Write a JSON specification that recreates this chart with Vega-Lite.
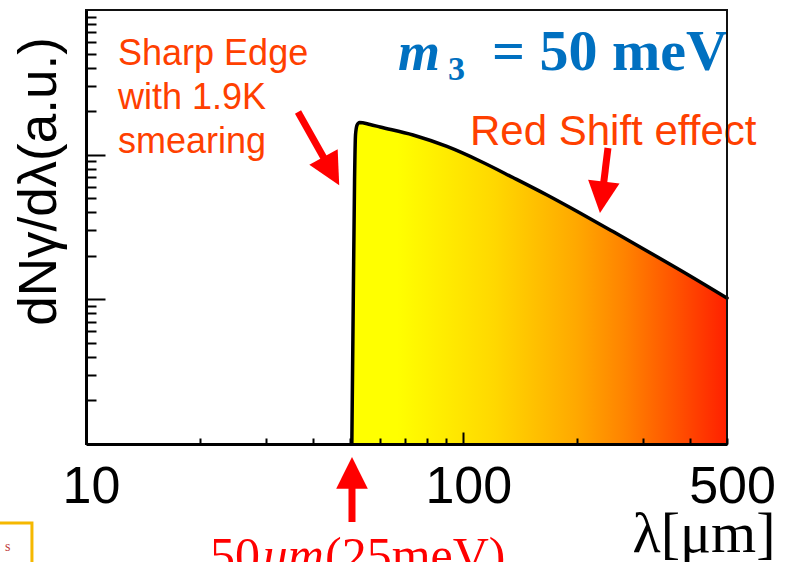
{
  "$schema": "https://vega.github.io/schema/vega-lite/v6.json",
  "width": 641,
  "height": 434,
  "autosize": {"type": "none"},
  "padding": {"left": 86, "top": 10, "right": 61, "bottom": 118},
  "background": "white",
  "config": {"view": {"stroke": null}},
  "datasets": {
    "curve": [
      {"lam": 50.65, "val": 1},
      {"lam": 51.1, "val": 9.9},
      {"lam": 51.5, "val": 66.8},
      {"lam": 51.8, "val": 136.8},
      {"lam": 52.3, "val": 160.3},
      {"lam": 53.1, "val": 166.9},
      {"lam": 56.6, "val": 161.6},
      {"lam": 60.2, "val": 155.3},
      {"lam": 73.6, "val": 136.8},
      {"lam": 90.5, "val": 113.9},
      {"lam": 110.7, "val": 90.4},
      {"lam": 135.4, "val": 69.5},
      {"lam": 166.7, "val": 52.6},
      {"lam": 203.9, "val": 39.5},
      {"lam": 249.4, "val": 29.4},
      {"lam": 306.9, "val": 21.6},
      {"lam": 375.3, "val": 15.95},
      {"lam": 500, "val": 10.2}
    ],
    "arrows": [
      {"id": "edge", "lam": 36.47, "val": 197.2, "lam2": 44.7, "val2": 76.9},
      {"id": "shift", "lam": 241.8, "val": 111.2, "lam2": 233.0, "val2": 50.7},
      {"id": "cut", "lam": 50.7, "val": 0.289, "lam2": 50.7, "val2": 0.632}
    ],
    "notes": [
      {"id": "sharp", "lam": 12.16, "val": 416.7, "text": "Sharp Edge\nwith 1.9K\nsmearing"},
      {"id": "m", "lam": 67.1, "val": 384.7, "text": "m"},
      {"id": "sub", "lam": 91.1, "val": 328, "text": "3"},
      {"id": "eq", "lam": 503, "val": 384.7, "text": "= 50 meV"},
      {"id": "red", "lam": 104.2, "val": 116.6, "text": "Red Shift effect"},
      {"id": "n50", "lam": 21.3, "val": 0.13, "text": "50"},
      {"id": "um", "lam": 29.4, "val": 0.13, "text": "um"},
      {"id": "n25", "lam": 43.0, "val": 0.13, "text": "(25meV)"},
      {"id": "s", "lam": 6.1, "val": 0.182, "text": "s"}
    ]
  },
  "layer": [
    {
      "data": {"name": "curve"},
      "mark": {
        "type": "area",
        "interpolate": "monotone",
        "color": {
          "gradient": "linear",
          "x1": 0, "y1": 0, "x2": 1, "y2": 0,
          "stops": [
            {"offset": 0, "color": "#FFFF00"},
            {"offset": 0.12, "color": "#FFFF00"},
            {"offset": 0.38, "color": "#FFD800"},
            {"offset": 0.6, "color": "#FFA800"},
            {"offset": 0.73, "color": "#FF8200"},
            {"offset": 0.87, "color": "#FF5000"},
            {"offset": 1, "color": "#FF2000"}
          ]
        }
      },
      "encoding": {
        "x": {
          "field": "lam", "type": "quantitative",
          "scale": {"type": "log", "domain": [10, 500], "nice": false},
          "axis": {
            "values": [10, 20, 30, 40, 50, 60, 70, 80, 90, 100, 200, 300, 400, 500],
            "labelExpr": "datum.value == 10 || datum.value == 100 || datum.value == 500 ? toString(datum.value) : ''",
            "labelFlush": false,
            "labelOverlap": false,
            "labelFont": "Liberation Sans",
            "labelFontSize": 52,
            "labelColor": "black",
            "labelBaseline": "top",
            "labelPadding": {"condition": {"test": "datum.value == 100", "value": 29}, "value": 23},
            "labelOffset": 5,
            "tickSize": {"condition": {"test": "datum.value == 100", "value": -12}, "value": -6},
            "tickWidth": 2,
            "tickColor": "black",
            "domainColor": "black",
            "domainWidth": 3,
            "grid": false,
            "title": "λ[μm]",
            "titleFont": "Liberation Serif",
            "titleFontSize": 58,
            "titleFontWeight": "normal",
            "titleColor": "black",
            "titleAlign": "right",
            "titleBaseline": "alphabetic",
            "titleAngle": 0,
            "titleX": 689,
            "titleY": 107,
            "zindex": 1
          }
        },
        "y": {
          "field": "val", "type": "quantitative",
          "scale": {"type": "log", "domain": [1, 1000], "nice": false},
          "axis": {
            "values": [2, 3, 4, 5, 6, 7, 8, 9, 10, 20, 30, 40, 50, 60, 70, 80, 90, 100, 200, 300, 400, 500, 600, 700, 800, 900],
            "labels": false,
            "tickSize": {"condition": {"test": "datum.value == 10 || datum.value == 100", "value": -19}, "value": -10},
            "tickWidth": 2,
            "tickColor": "black",
            "domainColor": "black",
            "domainWidth": 3,
            "grid": false,
            "title": "dNγ/dλ(a.u.)",
            "titleFont": "Liberation Sans",
            "titleFontSize": 53,
            "titleFontWeight": "normal",
            "titleColor": "black",
            "titleAngle": 270,
            "titleAlign": "center",
            "titleBaseline": "alphabetic",
            "titleX": -31,
            "titleY": 171,
            "zindex": 1
          }
        },
        "y2": {"datum": 1}
      }
    },
    {
      "data": {"name": "curve"},
      "mark": {"type": "line", "interpolate": "monotone", "color": "black", "strokeWidth": 3.5, "strokeJoin": "round", "strokeCap": "round"},
      "encoding": {
        "x": {"field": "lam", "type": "quantitative", "scale": {"type": "log", "domain": [10, 500], "nice": false}},
        "y": {"field": "val", "type": "quantitative", "scale": {"type": "log", "domain": [1, 1000], "nice": false}}
      }
    },
    {
      "data": {"name": "arrows"},
      "mark": {"type": "rule", "color": "#FF0000", "strokeWidth": 7, "strokeCap": "butt"},
      "encoding": {
        "x": {"field": "lam", "type": "quantitative", "scale": {"type": "log", "domain": [10, 500], "nice": false}},
        "y": {"field": "val", "type": "quantitative", "scale": {"type": "log", "domain": [1, 1000], "nice": false}},
        "x2": {"field": "lam2"},
        "y2": {"field": "val2"}
      }
    },
    {
      "data": {"name": "arrows"},
      "transform": [{"filter": "datum.id == 'edge'"}],
      "mark": {"type": "point", "shape": "M0,-1L1,1L-1,1Z", "size": 1050, "filled": true, "color": "#FF0000", "opacity": 1, "strokeWidth": 0, "angle": 151},
      "encoding": {
        "x": {"field": "lam2", "type": "quantitative", "scale": {"type": "log", "domain": [10, 500], "nice": false}},
        "y": {"field": "val2", "type": "quantitative", "scale": {"type": "log", "domain": [1, 1000], "nice": false}}
      }
    },
    {
      "data": {"name": "arrows"},
      "transform": [{"filter": "datum.id == 'shift'"}],
      "mark": {"type": "point", "shape": "M0,-1L1,1L-1,1Z", "size": 1000, "filled": true, "color": "#FF0000", "opacity": 1, "strokeWidth": 0, "angle": 187},
      "encoding": {
        "x": {"field": "lam2", "type": "quantitative", "scale": {"type": "log", "domain": [10, 500], "nice": false}},
        "y": {"field": "val2", "type": "quantitative", "scale": {"type": "log", "domain": [1, 1000], "nice": false}}
      }
    },
    {
      "data": {"name": "arrows"},
      "transform": [{"filter": "datum.id == 'cut'"}],
      "mark": {"type": "point", "shape": "M0,-1L1,1L-1,1Z", "size": 1000, "filled": true, "color": "#FF0000", "opacity": 1, "strokeWidth": 0, "angle": 0},
      "encoding": {
        "x": {"field": "lam2", "type": "quantitative", "scale": {"type": "log", "domain": [10, 500], "nice": false}},
        "y": {"field": "val2", "type": "quantitative", "scale": {"type": "log", "domain": [1, 1000], "nice": false}}
      }
    },
    {
      "data": {"name": "notes"},
      "transform": [{"filter": "datum.id == 'sharp'"}],
      "mark": {"type": "text", "align": "left", "baseline": "alphabetic", "font": "Liberation Sans", "fontSize": 36, "lineHeight": 44, "lineBreak": "\n", "color": "#FF4000"},
      "encoding": {
        "x": {"field": "lam", "type": "quantitative", "scale": {"type": "log", "domain": [10, 500], "nice": false}},
        "y": {"field": "val", "type": "quantitative", "scale": {"type": "log", "domain": [1, 1000], "nice": false}},
        "text": {"field": "text"}
      }
    },
    {
      "data": {"name": "notes"},
      "transform": [{"filter": "datum.id == 'red'"}],
      "mark": {"type": "text", "align": "left", "baseline": "alphabetic", "font": "Liberation Sans", "fontSize": 42, "color": "#FF4000"},
      "encoding": {
        "x": {"field": "lam", "type": "quantitative", "scale": {"type": "log", "domain": [10, 500], "nice": false}},
        "y": {"field": "val", "type": "quantitative", "scale": {"type": "log", "domain": [1, 1000], "nice": false}},
        "text": {"field": "text"}
      }
    },
    {
      "data": {"name": "notes"},
      "transform": [{"filter": "datum.id == 'm'"}],
      "mark": {"type": "text", "align": "left", "baseline": "alphabetic", "font": "Liberation Serif", "fontSize": 54, "fontWeight": "bold", "fontStyle": "italic", "color": "#0070C0"},
      "encoding": {
        "x": {"field": "lam", "type": "quantitative", "scale": {"type": "log", "domain": [10, 500], "nice": false}},
        "y": {"field": "val", "type": "quantitative", "scale": {"type": "log", "domain": [1, 1000], "nice": false}},
        "text": {"field": "text"}
      }
    },
    {
      "data": {"name": "notes"},
      "transform": [{"filter": "datum.id == 'sub'"}],
      "mark": {"type": "text", "align": "left", "baseline": "alphabetic", "font": "Liberation Serif", "fontSize": 34, "fontWeight": "bold", "color": "#0070C0"},
      "encoding": {
        "x": {"field": "lam", "type": "quantitative", "scale": {"type": "log", "domain": [10, 500], "nice": false}},
        "y": {"field": "val", "type": "quantitative", "scale": {"type": "log", "domain": [1, 1000], "nice": false}},
        "text": {"field": "text"}
      }
    },
    {
      "data": {"name": "notes"},
      "transform": [{"filter": "datum.id == 'eq'"}],
      "mark": {"type": "text", "align": "right", "baseline": "alphabetic", "font": "Liberation Serif", "fontSize": 58, "fontWeight": "bold", "color": "#0070C0"},
      "encoding": {
        "x": {"field": "lam", "type": "quantitative", "scale": {"type": "log", "domain": [10, 500], "nice": false}},
        "y": {"field": "val", "type": "quantitative", "scale": {"type": "log", "domain": [1, 1000], "nice": false}},
        "text": {"field": "text"}
      }
    },
    {
      "data": {"name": "notes"},
      "transform": [{"filter": "datum.id == 'n50' || datum.id == 'n25'"}],
      "mark": {"type": "text", "align": "left", "baseline": "alphabetic", "font": "Liberation Serif", "fontSize": 50, "color": "#FF0000"},
      "encoding": {
        "x": {"field": "lam", "type": "quantitative", "scale": {"type": "log", "domain": [10, 500], "nice": false}},
        "y": {"field": "val", "type": "quantitative", "scale": {"type": "log", "domain": [1, 1000], "nice": false}},
        "text": {"field": "text"}
      }
    },
    {
      "data": {"name": "notes"},
      "transform": [{"filter": "datum.id == 'um'"}],
      "mark": {"type": "text", "align": "left", "baseline": "alphabetic", "font": "Liberation Serif", "fontSize": 50, "fontStyle": "italic", "color": "#FF0000"},
      "encoding": {
        "x": {"field": "lam", "type": "quantitative", "scale": {"type": "log", "domain": [10, 500], "nice": false}},
        "y": {"field": "val", "type": "quantitative", "scale": {"type": "log", "domain": [1, 1000], "nice": false}},
        "text": {"field": "text"}
      }
    },
    {
      "data": {"values": [{"lam": 5.5, "lam2": 7.19, "val": 0.284, "val2": 0.1}]},
      "mark": {"type": "rect", "fill": "white", "stroke": "#F5B800", "strokeWidth": 3},
      "encoding": {
        "x": {"field": "lam", "type": "quantitative", "scale": {"type": "log", "domain": [10, 500], "nice": false}},
        "x2": {"field": "lam2"},
        "y": {"field": "val", "type": "quantitative", "scale": {"type": "log", "domain": [1, 1000], "nice": false}},
        "y2": {"field": "val2"}
      }
    },
    {
      "data": {"name": "notes"},
      "transform": [{"filter": "datum.id == 's'"}],
      "mark": {"type": "text", "align": "left", "baseline": "alphabetic", "font": "Liberation Serif", "fontSize": 14, "color": "#C04040"},
      "encoding": {
        "x": {"field": "lam", "type": "quantitative", "scale": {"type": "log", "domain": [10, 500], "nice": false}},
        "y": {"field": "val", "type": "quantitative", "scale": {"type": "log", "domain": [1, 1000], "nice": false}},
        "text": {"field": "text"}
      }
    },
    {
      "data": {"values": [{}]},
      "mark": {"type": "rect", "fill": "white", "fillOpacity": 0, "stroke": "#111111", "strokeWidth": 2},
      "encoding": {
        "x": {"datum": 10, "type": "quantitative", "scale": {"type": "log", "domain": [10, 500], "nice": false}},
        "x2": {"datum": 500},
        "y": {"datum": 1, "type": "quantitative", "scale": {"type": "log", "domain": [1, 1000], "nice": false}},
        "y2": {"datum": 1000}
      }
    }
  ]
}
